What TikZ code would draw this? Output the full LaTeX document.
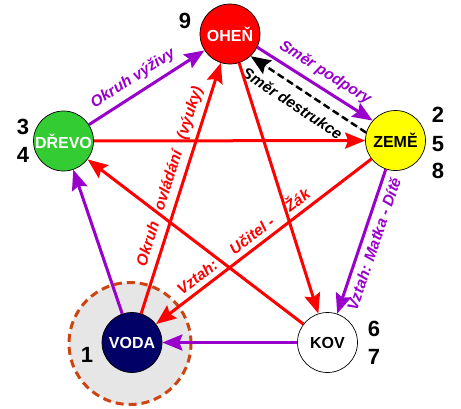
\documentclass[tikz,border=0pt]{standalone}
\usepackage{fontspec}
\setmainfont{Liberation Sans}
\usetikzlibrary{arrows.meta}

\definecolor{firered}{RGB}{255,0,0}
\definecolor{woodgreen}{RGB}{51,204,51}
\definecolor{earthyellow}{RGB}{255,255,0}
\definecolor{waterblue}{RGB}{0,0,102}
\definecolor{cyclepurple}{RGB}{153,0,204}
\definecolor{halobrown}{RGB}{204,68,17}
\definecolor{halogray}{RGB}{230,230,230}

\tikzset{
  element/.style={circle, draw=black, line width=0.7pt, minimum size=60pt, inner sep=0pt,
    font=\bfseries\fontsize{16}{19}\selectfont},
  num/.style={inner sep=0pt, font=\bfseries\fontsize{22}{26}\selectfont},
  tip/.style={-{Stealth[length=20pt, width=16pt, inset=3pt]}},
  feed/.style={tip, draw=cyclepurple, fill=cyclepurple, line width=3pt},
  rule/.style={tip, draw=firered, fill=firered, line width=3pt},
  ruin/.style={tip, draw=black, fill=black, line width=2.5pt, dash pattern=on 7pt off 4pt},
  lbl/.style={sloped, inner sep=2pt, font=\bfseries\itshape\fontsize{15.5}{18}\selectfont},
}

\begin{document}
\begin{tikzpicture}[x=1pt, y=-1pt]
    \useasboundingbox (0, 0) rectangle (461, 408);

    % water halo
    \node[circle, draw=halobrown, fill=halogray, line width=3pt, dash pattern=on 8pt off 5pt,
          minimum size=122pt] (halo) at (130, 343.5) {};

    % elements
    \node[element, fill=firered, text=white] (ohen) at (230, 34) {OHEŇ};
    \node[element, fill=woodgreen, text=white] (drevo) at (63.5, 141) {DŘEVO};
    \node[element, fill=earthyellow] (zeme) at (395.5, 140.5) {ZEMĚ};
    \node[element, fill=waterblue, text=white] (voda) at (132, 342.5) {VODA};
    \node[element, fill=white] (kov) at (327.5, 342.5) {KOV};

    % numbers
    \node[num] (n9) at (185, 21) {9};
    \node[num] (n3) at (23, 127) {3};
    \node[num] (n4) at (23, 155) {4};
    \node[num] (n2) at (438, 115) {2};
    \node[num] (n5) at (438, 144) {5};
    \node[num] (n8) at (438, 171) {8};
    \node[num] (n6) at (374, 329) {6};
    \node[num] (n7) at (374, 357) {7};
    \node[num] (n1) at (87, 355) {1};

    % support cycle
    \draw[feed] (drevo) -- node[lbl, pos=0.45, above=4pt, text=cyclepurple] {Okruh výživy} (ohen);
    \draw[feed] (ohen.-26) -- node[lbl, pos=0.52, above=4pt, text=cyclepurple] {Směr podpory} (zeme.139);
    \draw[feed] (zeme) -- node[lbl, pos=0.49, below=3pt, text=cyclepurple] {Vztah: Matka - Dítě} (kov);
    \draw[feed] (kov) -- (voda);
    \draw[feed] (voda) -- (drevo);

    % destruction direction
    \draw[ruin] (zeme.165) -- node[lbl, pos=0.56, below=7pt] {Směr destrukce} (ohen.-47);

    % control star
    \draw[rule] (drevo) -- (zeme);
    \draw[rule] (zeme) -- node[lbl, pos=0.56, above=3pt, text=firered]
        {Vztah:\hspace{14pt} Učitel -\hspace{14pt} Žák} (voda);
    \draw[rule] (voda) -- node[lbl, pos=0.53, above=3pt, text=firered]
        {Okruh\hspace{8pt} ovládání\hspace{8pt} (výuky)} (ohen);
    \draw[rule] (ohen) -- (kov);
    \draw[rule] (kov) -- (drevo);
\end{tikzpicture}
\end{document}
